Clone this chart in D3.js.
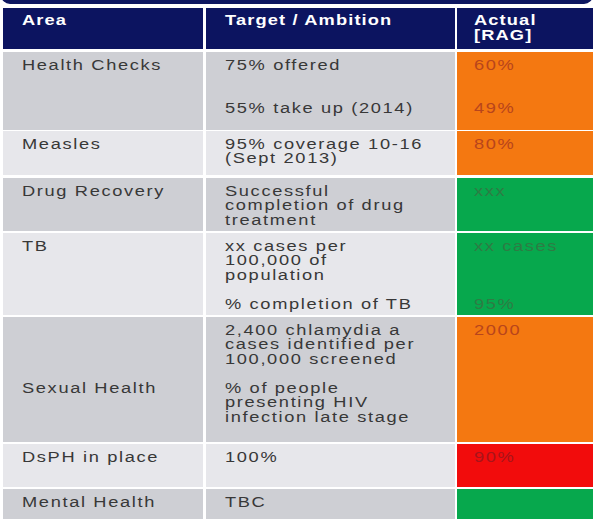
<!DOCTYPE html>
<html lang="en">
<head>
<meta charset="UTF-8">
<title>Public health RAG table</title>
<script src="https://d3js.org/d3.v7.min.js"></script>
<style>
    body { margin: 0; background: #fff; }
    svg { display: block; }
    text { font-family: "Liberation Sans", Arial, sans-serif; font-size: 14.5px; }
</style>
</head>
<body>
<svg width="597" height="519"></svg>
<script>
    // table content
    const headers = [["Area"], ["Target / Ambition"], ["Actual", "[RAG]"]];
    const areas = [
        ["Health Checks"], ["Measles"], ["Drug Recovery"], ["TB"],
        ["", "", "", "", "Sexual Health"], ["DsPH in place"], ["Mental Health"]
    ];
    const targets = [
        ["75% offered", "", "", "55% take up (2014)"],
        ["95% coverage 10-16", "(Sept 2013)"],
        ["Successful", "completion of drug", "treatment"],
        ["xx cases per", "100,000 of", "population", "", "% completion of TB"],
        ["2,400 chlamydia a", "cases identified per", "100,000 screened", "",
         "% of people", "presenting HIV", "infection late stage"],
        ["100%"],
        ["TBC"]
    ];
    const actuals = [
        ["60%", "", "", "49%"], ["80%"], ["xxx"], ["xx cases", "", "", "", "95%"],
        ["2000"], ["90%"], [""]
    ];
    const rag = ["amber", "amber", "green", "green", "amber", "red", "green"];

    // layout
    const colEdges = [[3, 203], [206, 455], [457, 593]];
    const textX = [22, 225, 474];
    const rowTops = [52, 131, 178, 233, 317, 444, 489];
    const rowBottoms = [130, 175, 231, 315, 442, 487, 519];
    const lineH = 14.5, firstLine = 17.5, stretch = 1.26;

    const ragFill = d3.scaleOrdinal().domain(["red", "amber", "green"])
        .range(["#f20c0c", "#f47811", "#07a84d"]);
    const ragText = d3.scaleOrdinal().domain(["red", "amber", "green"])
        .range(["#a8141a", "#b8451c", "#2e7c44"]);
    const shade = i => i % 2 === 0 ? "#cecfd4" : "#e7e7eb";

    let svg = d3.select("svg");

    // dark rounded band at the top edge
    svg.append("rect")
        .attr("x", 1).attr("y", -24).attr("width", 592).attr("height", 28)
        .attr("rx", 9).attr("fill", "#0d1661");

    function writeLines(g, lines, x, y0, color, bold) {
        g.selectAll(null)
            .data(lines)
            .enter()
            .append("text")
            .attr("transform", (d, i) => `translate(${x},${y0 + i * lineH}) scale(${stretch},1)`)
            .attr("fill", color)
            .attr("font-weight", bold ? "bold" : "normal")
            .attr("letter-spacing", bold ? 0.9 : 1.3)
            .text(d => d);
    }

    // header row
    let head = svg.append("g").attr("class", "header");
    headers.forEach(function (h, c) {
        head.append("rect")
            .attr("x", colEdges[c][0]).attr("y", 8)
            .attr("width", colEdges[c][1] - colEdges[c][0]).attr("height", 41)
            .attr("fill", "#0c1460");
        writeLines(head, h, textX[c], 25, "#ffffff", true);
    });

    // body rows
    let body = svg.append("g").attr("class", "rows");
    areas.forEach(function (a, r) {
        let y0 = rowTops[r], h = rowBottoms[r] - rowTops[r];
        let row = body.append("g");
        [0, 1].forEach(function (c) {
            row.append("rect")
                .attr("x", colEdges[c][0]).attr("y", y0)
                .attr("width", colEdges[c][1] - colEdges[c][0]).attr("height", h)
                .attr("fill", shade(r));
        });
        row.append("rect")
            .attr("x", colEdges[2][0]).attr("y", y0)
            .attr("width", colEdges[2][1] - colEdges[2][0]).attr("height", h)
            .attr("fill", ragFill(rag[r]));

        writeLines(row, a, textX[0], y0 + firstLine, "#383838", false);
        writeLines(row, targets[r], textX[1], y0 + firstLine, "#383838", false);
        writeLines(row, actuals[r], textX[2], y0 + firstLine, ragText(rag[r]), false);
    });
</script>
</body>
</html>
